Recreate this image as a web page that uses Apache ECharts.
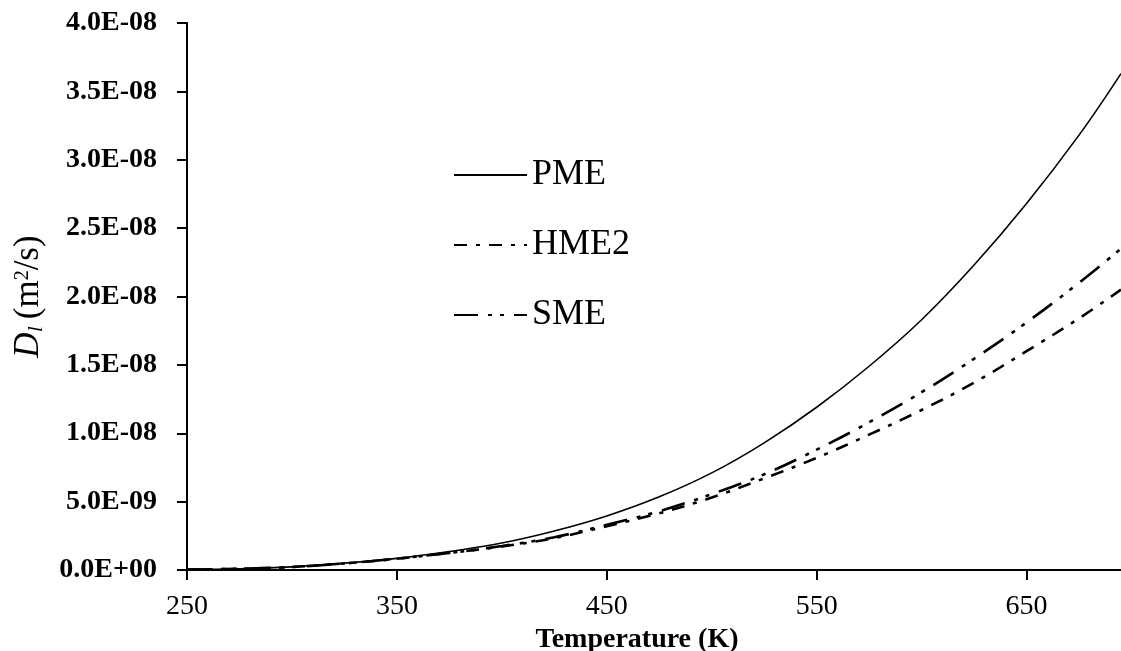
<!DOCTYPE html>
<html>
<head>
<meta charset="utf-8">
<script src="https://cdn.jsdelivr.net/npm/echarts@6/dist/echarts.min.js"></script>
<style>
html,body{margin:0;padding:0;background:#fff;}
#chart{width:1121px;height:651px;}
</style>
</head>
<body>
<div id="chart"></div>
<script>
// Temperature (K)
const temps = [250, 275, 300, 325, 350, 375, 400, 425, 450, 475, 500, 525, 550, 575, 600, 625, 650, 675, 695];
// Liquid diffusion coefficient D_l (m^2/s)
const pme  = [4e-11, 9e-11, 2.3e-10, 5.0e-10, 8.5e-10, 1.35e-9, 1.97e-9, 2.85e-9, 3.95e-9, 5.35e-9, 7.1e-9, 9.3e-9, 1.19e-8, 1.49e-8, 1.83e-8, 2.23e-8, 2.68e-8, 3.18e-8, 3.63e-8];
const hme2 = [4e-11, 9e-11, 2.2e-10, 4.8e-10, 8.2e-10, 1.25e-9, 1.72e-9, 2.33e-9, 3.2e-9, 4.15e-9, 5.3e-9, 6.7e-9, 8.2e-9, 9.9e-9, 1.17e-8, 1.37e-8, 1.6e-8, 1.84e-8, 2.05e-8];
const sme  = [4e-11, 9e-11, 2.2e-10, 4.8e-10, 8.3e-10, 1.25e-9, 1.75e-9, 2.4e-9, 3.3e-9, 4.3e-9, 5.55e-9, 7.0e-9, 8.8e-9, 1.08e-8, 1.3e-8, 1.545e-8, 1.81e-8, 2.1e-8, 2.35e-8];
const seriesNames = ['PME', 'HME2', 'SME'];
const xTicks = [250, 350, 450, 550, 650];
const yTicks = [0, 5e-9, 1e-8, 1.5e-8, 2e-8, 2.5e-8, 3e-8, 3.5e-8, 4e-8];

function fmtE(v) {
  if (Math.abs(v) < 1e-20) return '0.0E+00';
  const s = v.toExponential(1);
  const parts = s.split('e');
  const exp = parseInt(parts[1], 10);
  const sign = exp < 0 ? '-' : '+';
  const ab = Math.abs(exp);
  return parts[0] + 'E' + sign + (ab < 10 ? '0' + ab : '' + ab);
}

const serif = 'Liberation Serif';
const pair = arr => temps.map((t, i) => [t, arr[i]]);

const chart = echarts.init(document.getElementById('chart'), null, {renderer: 'canvas'});
chart.setOption({
  backgroundColor: '#ffffff',
  animation: false,
  grid: {left: 187, right: 0, top: 23, bottom: 81, containLabel: false, outerBoundsMode: 'none'},
  legend: {
    orient: 'vertical',
    left: 453,
    top: 157,
    padding: 0,
    itemWidth: 73,
    itemHeight: 14,
    itemGap: 34,
    itemStyle: {opacity: 0, borderWidth: 0},
    textStyle: {fontFamily: serif, fontSize: 36, color: '#000'},
    data: seriesNames
  },
  xAxis: {
    type: 'value',
    min: 250,
    max: 695,
    name: 'Temperature (K)',
    nameLocation: 'middle',
    nameGap: 51,
    nameTextStyle: {fontFamily: serif, fontSize: 28, fontWeight: 'bold', color: '#000', padding: [0, 34, 0, 0]},
    axisLine: {show: true, lineStyle: {color: '#000', width: 2}},
    axisTick: {show: true, inside: false, length: 10, lineStyle: {color: '#000', width: 2}, customValues: xTicks},
    axisLabel: {show: true, margin: 23, fontFamily: serif, fontSize: 28, color: '#000', customValues: xTicks, formatter: v => String(v)},
    splitLine: {show: false}
  },
  yAxis: {
    type: 'value',
    min: 0,
    max: 4e-8,
    interval: 5e-9,
    name: '{i|D}{sub|l}{n|\u2009(m}{sup|2}{n|/s)}',
    nameLocation: 'middle',
    nameGap: 140,
    nameRotate: 90,
    nameTextStyle: {
      color: '#000',
      rich: {
        i: {fontFamily: serif, fontSize: 35, fontStyle: 'italic', color: '#000'},
        sub: {fontFamily: serif, fontSize: 22, fontStyle: 'italic', color: '#000', padding: [14, 0, 0, 0]},
        n: {fontFamily: serif, fontSize: 35, color: '#000'},
        sup: {fontFamily: serif, fontSize: 20, color: '#000', padding: [0, 0, 12, 0]}
      }
    },
    axisLine: {show: true, lineStyle: {color: '#000', width: 2}},
    axisTick: {show: true, inside: false, length: 10, lineStyle: {color: '#000', width: 2}},
    axisLabel: {show: true, margin: 30, fontFamily: serif, fontSize: 28, fontWeight: 'bold', color: '#000', formatter: fmtE},
    splitLine: {show: false}
  },
  series: [
    {name: 'PME', type: 'line', data: pair(pme), smooth: 0.4, symbol: 'none',
     lineStyle: {color: '#000', width: 1.6, type: 'solid'}, itemStyle: {color: '#000'}},
    {name: 'HME2', type: 'line', data: pair(hme2), smooth: 0.4, symbol: 'none',
     lineStyle: {color: '#000', width: 2.6, type: [13, 9, 4, 9]}, itemStyle: {color: '#000'}},
    {name: 'SME', type: 'line', data: pair(sme), smooth: 0.4, symbol: 'none',
     lineStyle: {color: '#000', width: 2.6, type: [24, 10, 4, 8, 4, 10]}, itemStyle: {color: '#000'}}
  ]
});
</script>
</body>
</html>
